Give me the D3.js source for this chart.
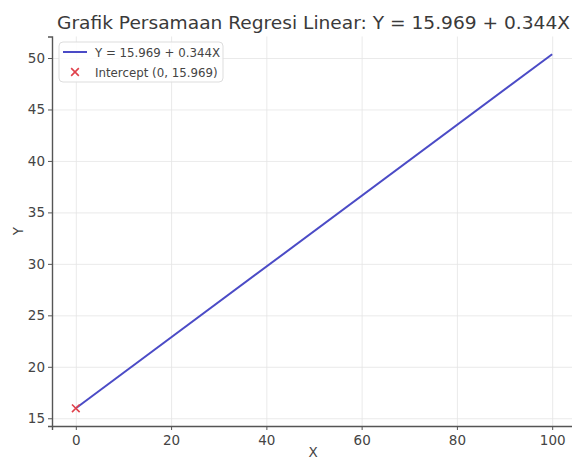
<!DOCTYPE html>
<html>
<head>
<meta charset="utf-8">
<script src="https://cdn.jsdelivr.net/npm/d3@7/dist/d3.min.js"></script>
<style>
  body { margin: 0; background: #fff; }
  svg { font-family: "DejaVu Sans", sans-serif; }
  .tick text { fill: #444; font-size: 13.5px; }
  .gridline line { stroke: #e4e4e4; stroke-width: 0.8; }
  .gridline path { display: none; }
</style>
</head>
<body>
<script>
 ///////////////////////////////////////////////////////
 // data

 var lineX = [0, 100];
 var lineY = [15.969, 50.369];
 var interceptX = [0];
 var interceptY = [15.969];
 var xTicks = [0, 20, 40, 60, 80, 100];
 var yTicks = [15, 20, 25, 30, 35, 40, 45, 50];
 var titleText = "Grafik Persamaan Regresi Linear: Y = 15.969 + 0.344X";
 var legendLabels = ["Y = 15.969 + 0.344X", "Intercept (0, 15.969)"];

 ///////////////////////////////////////////////////////
 // margins

 var w = 572;
 var h = 459;
 var svg = d3.select("body").append("svg")
   .attr("width", w)
   .attr("height", h),
   margin = { top: 36.5, bottom: 33, left: 52, right: -4 },
   width = w - margin.left - margin.right,
   height = h - margin.top - margin.bottom;

 ///////////////////////////////////////////////////////
 // scales

 var x = d3.scaleLinear().domain([-5, 105]).range([0, width]);
 var y = d3.scaleLinear().domain([14.249, 52.089]).range([height, 0]);

 var chart = svg.append("g")
   .attr("transform", "translate(" + margin.left + "," + margin.top + ")");

 // gridlines
 chart.append("g")
   .classed("gridline", true)
   .attr("transform", "translate(0," + height + ")")
   .call(d3.axisBottom(x).tickValues(xTicks).tickFormat("").tickSize(-height));
 chart.append("g")
   .classed("gridline", true)
   .call(d3.axisLeft(y).tickValues(yTicks).tickFormat("").tickSize(-width));

 // axes
 var xAxis = chart.append("g")
   .attr("transform", "translate(0," + height + ")")
   .call(d3.axisBottom(x).tickValues(xTicks).tickSize(4).tickPadding(5));
 var yAxis = chart.append("g")
   .call(d3.axisLeft(y).tickValues(yTicks).tickSize(4).tickPadding(3));
 [xAxis, yAxis].forEach(function(a) {
   a.select(".domain").attr("stroke", "#555").attr("stroke-width", 1.4);
   a.selectAll(".tick line").attr("stroke", "#555");
   a.attr("font-family", null).attr("font-size", null);
 });

 // line
 var pts = lineX.map(function(d, i) { return [d, lineY[i]]; });
 chart.append("path")
   .datum(pts)
   .attr("fill", "none")
   .attr("stroke", "#4b4bc6")
   .attr("stroke-width", 2)
   .attr("d", d3.line().x(function(d) { return x(d[0]); }).y(function(d) { return y(d[1]); }));

 // intercept marker
 var cross = d3.symbol().type(d3.symbolX).size(40);
 chart.selectAll(".icpt")
   .data(interceptX)
   .enter().append("path")
   .attr("transform", function(d, i) { return "translate(" + x(d) + "," + y(interceptY[i]) + ")"; })
   .attr("d", cross)
   .attr("fill", "none")
   .attr("stroke", "#e0414b")
   .attr("stroke-width", 1.6);

 // titles
 svg.append("text")
   .attr("x", 313.5).attr("y", 29)
   .attr("text-anchor", "middle")
   .attr("font-size", 17)
   .attr("textLength", 513)
   .attr("lengthAdjust", "spacingAndGlyphs")
   .attr("fill", "#3a3a3a")
   .text(titleText);
 svg.append("text")
   .attr("x", 313).attr("y", 457)
   .attr("text-anchor", "middle")
   .attr("font-size", 13.5)
   .attr("fill", "#444")
   .text("X");
 svg.append("text")
   .attr("transform", "translate(23,231) rotate(-90)")
   .attr("text-anchor", "middle")
   .attr("font-size", 13.5)
   .attr("fill", "#444")
   .text("Y");

 // legend
 var lg = svg.append("g").attr("transform", "translate(59,42)");
 lg.append("rect")
   .attr("width", 164).attr("height", 40).attr("rx", 4)
   .attr("fill", "#fff").attr("fill-opacity", 0.85)
   .attr("stroke", "#ddd");
 lg.append("line")
   .attr("x1", 4).attr("x2", 28).attr("y1", 10).attr("y2", 10)
   .attr("stroke", "#4b4bc6").attr("stroke-width", 2);
 lg.append("path")
   .attr("transform", "translate(16,30)")
   .attr("d", cross)
   .attr("fill", "none").attr("stroke", "#e0414b").attr("stroke-width", 1.6);
 lg.selectAll(".lbl")
   .data(legendLabels)
   .enter().append("text")
   .attr("x", 36)
   .attr("y", function(d, i) { return 15 + i * 20; })
   .attr("font-size", 11.8)
   .attr("fill", "#444")
   .text(function(d) { return d; });
</script>
</body>
</html>
